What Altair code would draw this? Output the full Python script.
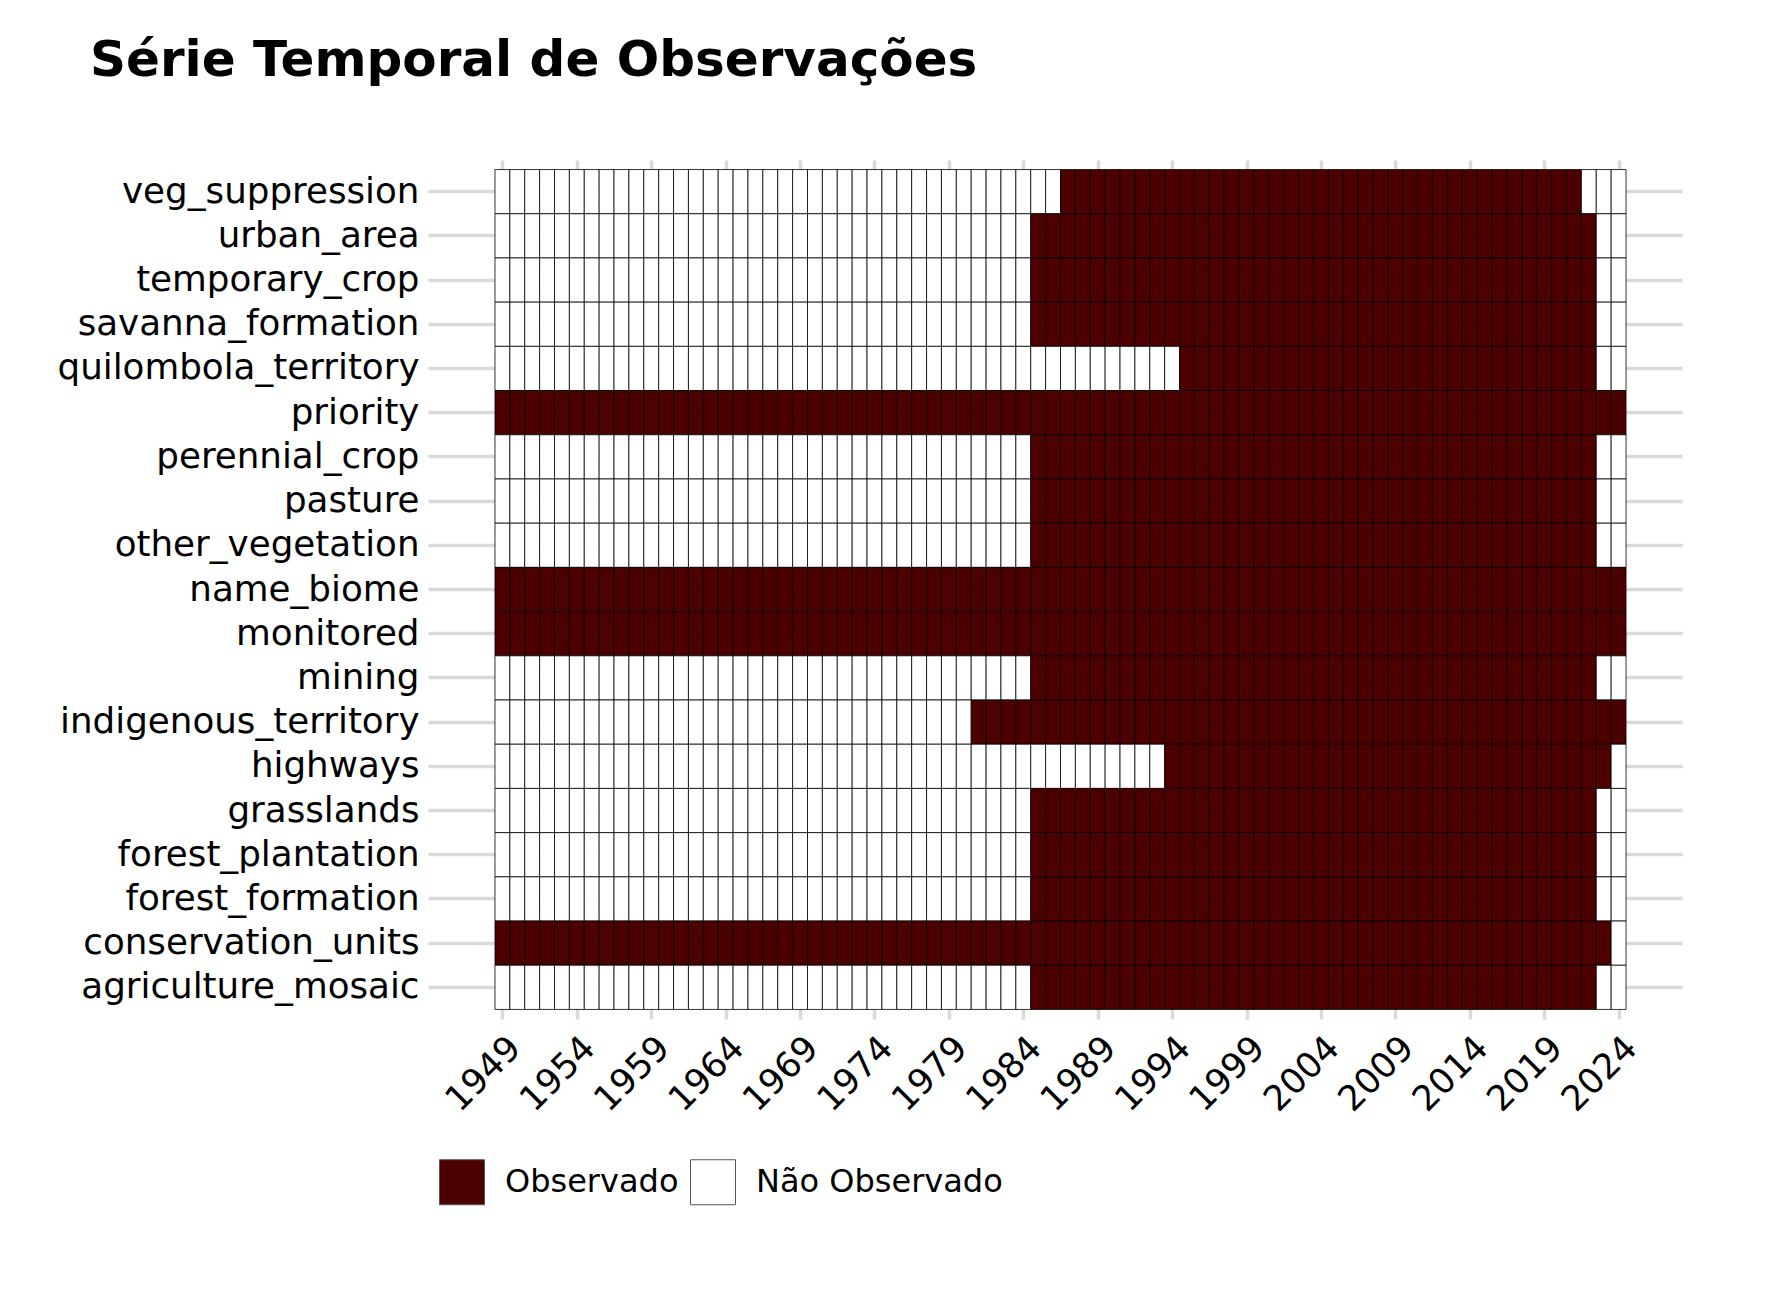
import altair as alt
import pandas as pd

# --- data ---
variables = [
    "veg_suppression", "urban_area", "temporary_crop", "savanna_formation",
    "quilombola_territory", "priority", "perennial_crop", "pasture",
    "other_vegetation", "name_biome", "monitored", "mining",
    "indigenous_territory", "highways", "grasslands", "forest_plantation",
    "forest_formation", "conservation_units", "agriculture_mosaic",
]
first_observed = [1987, 1985, 1985, 1985, 1995, 1949, 1985, 1985, 1985, 1949,
                  1949, 1985, 1981, 1994, 1985, 1985, 1985, 1949, 1985]
last_observed = [2021, 2022, 2022, 2022, 2022, 2024, 2022, 2022, 2022, 2024,
                 2024, 2022, 2024, 2023, 2022, 2022, 2022, 2023, 2022]
years = list(range(1949, 2025))
tick_years = list(range(1949, 2025, 5))
status_labels = ["Observado", "Não Observado"]
status_colors = ["#4D0000", "#FFFFFF"]

rows = []
for var, a, b in zip(variables, first_observed, last_observed):
    for y in years:
        rows.append({
            "variavel": var,
            "ano": y,
            "ano_ini": y - 0.5,
            "ano_fim": y + 0.5,
            "status": status_labels[0] if a <= y <= b else status_labels[1],
        })
df = pd.DataFrame(rows)

FONT = "DejaVu Sans"
GRID = "#D9D9D9"

chart = alt.Chart(df).mark_rect(stroke="black", strokeWidth=0.8).encode(
    x=alt.X("ano_ini:Q",
            scale=alt.Scale(domain=[1944.0, 2028.26], nice=False, zero=False),
            axis=alt.Axis(values=tick_years, format="d", title=None,
                          labelAngle=-45, labelAlign="right", labelBaseline="top",
                          labelFontSize=35, labelFont=FONT, labelColor="black",
                          labelPadding=11, domain=False, ticks=False,
                          grid=True, gridColor=GRID, gridWidth=3.5,
                          labelOverlap=False, labelLimit=0, zindex=0)),
    x2="ano_fim:Q",
    y=alt.Y("variavel:N", sort=variables,
            scale=alt.Scale(paddingInner=0, paddingOuter=0.216),
            axis=alt.Axis(title=None, domain=False, ticks=False,
                          grid=True, gridColor=GRID, gridWidth=3.5,
                          bandPosition=0.5, zindex=0,
                          labelFontSize=35.7, labelFont=FONT, labelColor="black",
                          labelPadding=9, labelLimit=0)),
    color=alt.Color("status:N",
                    scale=alt.Scale(domain=status_labels, range=status_colors),
                    legend=alt.Legend(title=None, orient="none",
                                      legendX=11, legendY=999,
                                      direction="horizontal",
                                      symbolType="square", symbolSize=2025,
                                      symbolStrokeColor="#555555",
                                      symbolStrokeWidth=1,
                                      labelFontSize=32, labelFont=FONT,
                                      labelColor="black", labelOffset=20,
                                      labelLimit=0,
                                      columnPadding=9, padding=0)),
).properties(
    width=1254,
    height=859,
    title=alt.TitleParams(
        "Série Temporal de Observações",
        font=FONT, fontSize=50, fontWeight="bold", color="black",
        anchor="start", frame="group", dx=-338, offset=34,
        baseline="alphabetic",
    ),
    autosize=alt.AutoSizeParams(type="none"),
    padding={"left": 428, "top": 160, "right": 89, "bottom": 280},
    background="white",
).configure_view(stroke=None)

chart.save("out.html", embed_options={"renderer": "svg", "actions": False})
